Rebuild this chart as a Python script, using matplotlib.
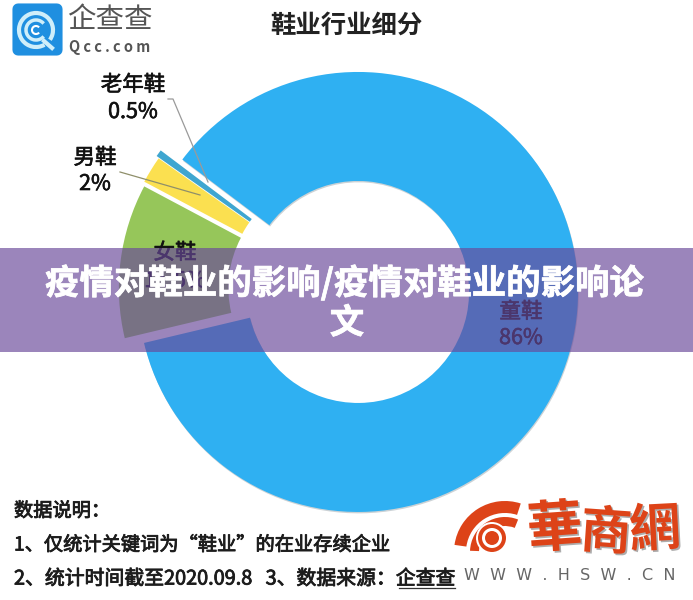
import matplotlib
matplotlib.use('Agg')
from matplotlib import pyplot as plt
from matplotlib.patches import Arc, Circle, FancyBboxPatch, Rectangle, Wedge
import matplotlib.patheffects as pe

plt.rcParams['font.family'] = ['Noto Sans CJK SC', 'DejaVu Sans']

# 图表数据
names = ['童鞋', '女鞋', '男鞋', '老年鞋']
shares = [86, 11.5, 2, 0.5]
share_labels = ['86%', '11.5%', '2%', '0.5%']
colors = ['#2fb0f2', '#96c65a', '#fbe050', '#3fa6d0']
explode = [13, 10, 10, 10]

title = '鞋业行业细分'
notes = ['数据说明：',
         '1、仅统计关键词为“鞋业”的在业存续企业',
         '2、统计时间截至2020.09.8   3、数据来源：企查查']
banner = ['疫情对鞋业的影响/疫情对鞋业的影响论', '文']


def Y(y):
    # 参考图是从上往下量的像素，这里翻转一下
    return 600 - y


def thick(color, w=0.45):
    # 字体只有常规和粗体，用描边做出中等粗细
    return [pe.withStroke(linewidth=w, foreground=color)]


fig = plt.figure(figsize=(6.93, 6), dpi=100)
ax = fig.add_axes([0, 0, 1, 1])

shadow = [pe.SimplePatchShadow(offset=(0.5, -1), shadow_rgbFace='#9aa6ad', alpha=0.5),
          pe.Normal()]
wedges, _ = ax.pie(shares, colors=colors, explode=explode, startangle=143,
                   counterclock=False, radius=220, center=(345.3, Y(289.3)),
                   wedgeprops=dict(width=109, linewidth=0))
wedges[0].set_path_effects(shadow)
# 小扇形外径略有差别
for w, r in zip(wedges[1:], [216.5, 218, 221]):
    w.set_radius(r)
    w.set_width(r - 107)

ax.set_xlim(0, 693)
ax.set_ylim(0, 600)
ax.set_aspect('auto')
ax.axis('off')

# 标题和标签
dark = '#111111'
ax.text(346, Y(25), title, fontsize=18.3, fontweight='bold', ha='center', va='center', color='#222222')
ax.text(133, Y(85), names[3], fontsize=15.5, ha='center', va='center', color=dark, path_effects=thick(dark))
ax.text(133, Y(112), share_labels[3], fontsize=15.5, ha='center', va='center', color=dark, path_effects=thick(dark))
ax.text(95, Y(158), names[2], fontsize=15.5, ha='center', va='center', color=dark, path_effects=thick(dark))
ax.text(95, Y(184), share_labels[2], fontsize=15.5, ha='center', va='center', color=dark, path_effects=thick(dark))
ax.text(175, Y(253), names[1], fontsize=15.5, ha='center', va='center', color=dark, path_effects=thick(dark))
ax.text(175, Y(281), share_labels[1], fontsize=15.5, ha='center', va='center', color=dark, path_effects=thick(dark))
ax.text(521, Y(312), names[0], fontsize=15.5, ha='center', va='center', color=dark, path_effects=thick(dark))
ax.text(521, Y(338), share_labels[0], fontsize=15.5, ha='center', va='center', color=dark, path_effects=thick(dark))

# 引导线
ax.plot([168, 173, 208], [Y(99), Y(99), Y(182)], color='#9a9a9a', lw=0.9)
ax.plot([120, 200], [Y(172), Y(195)], color='#8f8f6a', lw=0.9)

# 企查查 logo
ax.add_patch(FancyBboxPatch((18, Y(50)), 39, 41, boxstyle='round,pad=0,rounding_size=0', fc='#1f8fe0', ec='#1f8fe0',
                            lw=8, joinstyle='round'))
ax.add_patch(Arc((36, Y(30)), 34, 34, theta1=-35, theta2=300, ec='#cfeefa', lw=3))
ax.add_patch(Arc((36, Y(30)), 20, 20, theta1=40, theta2=320, ec='#cfeefa', lw=2.5))
ax.add_patch(Arc((36, Y(30)), 8, 8, theta1=40, theta2=320, ec='white', lw=1.5))
ax.plot([44, 52], [Y(41), Y(48)], color='#cfeefa', lw=3)
ax.text(110, Y(20), '企查查', fontsize=20.5, fontweight='light', ha='center', va='center', color='#555555')
ax.text(110, Y(47), 'Q c c . c o m', fontsize=10.5, fontweight='bold', ha='center', va='center', color='#555555')

# 底部说明
note_c = '#1c1c1c'
ax.text(14, Y(511), notes[0], fontsize=13.85, ha='left', va='center', color=note_c, path_effects=thick(note_c, 0.6))
ax.text(14, Y(545), notes[1], fontsize=13.85, ha='left', va='center', color=note_c, path_effects=thick(note_c, 0.6))
ax.text(14, Y(579), notes[2], fontsize=14.3, ha='left', va='center', color=note_c, path_effects=thick(note_c, 0.6))
ax.plot([399, 455], [Y(588), Y(588)], color='#333333', lw=0.9)

# 华商网水印
red = '#dd4318'
ax.add_patch(Wedge((505, Y(552)), 51, 72, 172, width=12, fc=red, ec='none'))
ax.add_patch(Wedge((505, Y(552)), 35, 68, 178, width=9, fc=red, ec='none'))
ax.add_patch(Circle((492, Y(538)), 16, fc='white', ec='none'))
ax.add_patch(Circle((492, Y(538)), 14, fc=red, ec='none'))
ax.add_patch(Circle((492, Y(538)), 10, fc='white', ec='none'))
ax.add_patch(Circle((492, Y(538)), 7, fc=red, ec='none'))
wm = [pe.withSimplePatchShadow(offset=(1.2, -1.2), shadow_rgbFace='#777777', alpha=0.6)]
ax.text(555, Y(530), '華', fontsize=40, fontweight='bold', ha='center', va='center', color=red, rotation=4, path_effects=wm)
ax.text(606, Y(533), '商', fontsize=37, fontweight='bold', ha='center', va='center', color=red, rotation=-4, path_effects=wm)
ax.text(655, Y(530), '網', fontsize=37, fontweight='bold', ha='center', va='center', color=red, rotation=3, path_effects=wm)
ax.text(570, Y(575), 'W  W  W  .  H  S  W  .  C  N', fontsize=11.5, ha='center', va='center', color='#666666',
        family=['DejaVu Sans'])

# 紫色横幅盖在图上
ax.add_patch(Rectangle((0, Y(352)), 693, 104, fc=(105 / 255, 73 / 255, 154 / 255, 0.667), ec='none', zorder=5))
ax.text(345, Y(283), banner[0], fontsize=24.8, fontweight='bold', ha='center', va='center', color='white', zorder=6,
        path_effects=thick('white', 0.5))
ax.text(347, Y(323), banner[1], fontsize=24.8, fontweight='bold', ha='center', va='center', color='white', zorder=6,
        path_effects=thick('white', 0.5))

fig.savefig('out.png', dpi=100)
